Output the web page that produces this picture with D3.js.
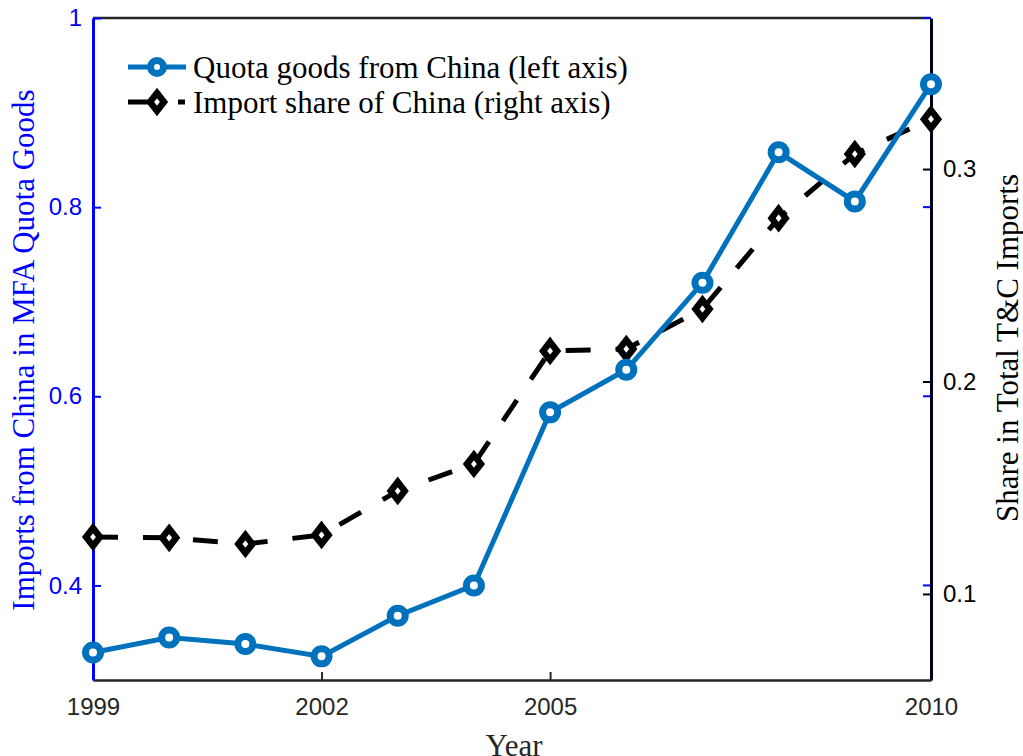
<!DOCTYPE html>
<html>
<head>
<meta charset="utf-8">
<script src="https://cdn.jsdelivr.net/npm/d3@7"></script>
<style>
  body { margin: 0; background: #fff; }
  .tick-lab { font-family: "Liberation Sans", Arial, sans-serif; font-size: 24px; }
  .title { font-family: "Liberation Serif", "Times New Roman", serif; font-size: 31px; }
</style>
</head>
<body>
<div id="chart"></div>
<script>
// data
var years = [1999, 2000, 2001, 2002, 2003, 2004, 2005, 2006, 2007, 2008, 2009, 2010];
var quotaShare = [0.329, 0.345, 0.338, 0.325, 0.368, 0.400, 0.583, 0.628, 0.720, 0.858, 0.806, 0.930];
var importShare = [0.1268, 0.1264, 0.1235, 0.1278, 0.1485, 0.1612, 0.2144, 0.2153, 0.2341, 0.2769, 0.3071, 0.3235];
var xTicks = [1999, 2002, 2005, 2010];
var leftTicks = [0.4, 0.6, 0.8, 1];
var rightTicks = [0.1, 0.2, 0.3];
var legendLabels = ["Quota goods from China (left axis)", "Import share of China (right axis)"];

var svgWidth = 1023;
var svgHeight = 756;
var margin = { top: 18, right: 92, bottom: 76, left: 93 };
var width = svgWidth - margin.left - margin.right;
var height = svgHeight - margin.top - margin.bottom;

var blue = "#0072BD";
var axisBlue = "#0000FF";
var gray = "#262626";

var svg = d3.select("#chart")
  .append("svg")
  .attr("width", svgWidth)
  .attr("height", svgHeight)
  .append("g")
  .attr("transform", `translate(${margin.left}, ${margin.top})`);

var x = d3.scaleLinear().domain([1999, 2010]).range([0, width]);
var yLeft = d3.scaleLinear().domain([0.3, 1]).range([height, 0]);
var yRight = d3.scaleLinear().domain([0.0595, 0.3711]).range([height, 0]);

// diamond marker, taller than wide
var diamondType = {
  draw: function(ctx) {
    ctx.moveTo(0, -9);
    ctx.lineTo(7, 0);
    ctx.lineTo(0, 9);
    ctx.lineTo(-7, 0);
    ctx.closePath();
  }
};
var diamond = d3.symbol().type(diamondType);

// top border
svg.append("line")
  .attr("x1", 0).attr("x2", width).attr("y1", 0).attr("y2", 0)
  .attr("stroke", gray).attr("stroke-width", 2.5);

// x axis
var xAxis = svg.append("g")
  .attr("transform", `translate(0,${height})`)
  .call(d3.axisBottom(x).tickValues(xTicks).tickFormat(d3.format("d")).tickSizeInner(-8).tickSizeOuter(0).tickPadding(18));
xAxis.select(".domain").attr("stroke", gray).attr("stroke-width", 2.5);
xAxis.selectAll(".tick line").attr("stroke", gray).attr("stroke-width", 2);
xAxis.selectAll("text").attr("class", "tick-lab").attr("fill", gray).attr("font-size", null).attr("font-family", null);

// left axis
var lAxis = svg.append("g")
  .call(d3.axisLeft(yLeft).tickValues(leftTicks).tickFormat(d => d === 1 ? "1" : d3.format(".1f")(d)).tickSizeInner(-8).tickSizeOuter(0).tickPadding(11));
lAxis.select(".domain").attr("stroke", axisBlue).attr("stroke-width", 3);
lAxis.selectAll(".tick line").attr("stroke", axisBlue).attr("stroke-width", 2);
lAxis.selectAll("text").attr("class", "tick-lab").attr("fill", axisBlue).attr("font-size", null).attr("font-family", null);

// mirrored blue ticks on right side
svg.append("g").selectAll("line")
  .data(leftTicks)
  .enter()
  .append("line")
  .attr("x1", width - 8).attr("x2", width)
  .attr("y1", d => yLeft(d)).attr("y2", d => yLeft(d))
  .attr("stroke", axisBlue).attr("stroke-width", 2);

// right axis
var rAxis = svg.append("g")
  .attr("transform", `translate(${width},0)`)
  .call(d3.axisRight(yRight).tickValues(rightTicks).tickFormat(d3.format(".1f")).tickSizeInner(-8).tickSizeOuter(0).tickPadding(12));
rAxis.select(".domain").attr("stroke", "#000022").attr("stroke-width", 3);
rAxis.selectAll(".tick line").attr("stroke", "#000").attr("stroke-width", 2);
rAxis.selectAll("text").attr("class", "tick-lab").attr("fill", "#000").attr("font-size", null).attr("font-family", null);

// axis titles
svg.append("text")
  .attr("class", "title")
  .attr("x", width / 2 + 2)
  .attr("y", height + 76)
  .attr("text-anchor", "middle")
  .attr("fill", gray)
  .text("Year");

svg.append("text")
  .attr("class", "title")
  .attr("transform", "rotate(-90)")
  .attr("x", -332)
  .attr("y", -59)
  .attr("text-anchor", "middle")
  .attr("fill", axisBlue)
  .text("Imports from China in MFA Quota Goods");

svg.append("text")
  .attr("class", "title")
  .attr("transform", "rotate(-90)")
  .attr("x", -330)
  .attr("y", width + 87)
  .attr("text-anchor", "middle")
  .attr("fill", "#000")
  .text("Share in Total T&C Imports");

// black dashed line (right axis)
var lineR = d3.line().x((d, i) => x(years[i])).y(d => yRight(d));
svg.append("path")
  .datum(importShare)
  .attr("d", lineR)
  .attr("fill", "none")
  .attr("stroke", "#000")
  .attr("stroke-width", 5)
  .attr("stroke-dasharray", "25,25");

svg.append("g").selectAll("path")
  .data(importShare)
  .enter()
  .append("path")
  .attr("d", diamond)
  .attr("transform", (d, i) => `translate(${x(years[i])},${yRight(d)})`)
  .attr("fill", "#fff")
  .attr("stroke", "#000")
  .attr("stroke-width", 6.5);

// blue line (left axis)
var lineL = d3.line().x((d, i) => x(years[i])).y(d => yLeft(d));
svg.append("path")
  .datum(quotaShare)
  .attr("d", lineL)
  .attr("fill", "none")
  .attr("stroke", blue)
  .attr("stroke-width", 5);

svg.append("g").selectAll("circle")
  .data(quotaShare)
  .enter()
  .append("circle")
  .attr("cx", (d, i) => x(years[i]))
  .attr("cy", d => yLeft(d))
  .attr("r", 7.5)
  .attr("fill", "#fff")
  .attr("stroke", blue)
  .attr("stroke-width", 7);

// legend
var leg = svg.append("g").attr("transform", "translate(35,49)");
leg.append("line")
  .attr("x1", 0).attr("x2", 58).attr("y1", 0).attr("y2", 0)
  .attr("stroke", blue).attr("stroke-width", 5);
leg.append("circle")
  .attr("cx", 29).attr("cy", 0).attr("r", 6.5)
  .attr("fill", "#fff").attr("stroke", blue).attr("stroke-width", 7);
leg.append("line")
  .attr("x1", 0).attr("x2", 58).attr("y1", 35).attr("y2", 35)
  .attr("stroke", "#000").attr("stroke-width", 5)
  .attr("stroke-dasharray", "38,12,7,10");
leg.append("path")
  .attr("d", diamond)
  .attr("transform", "translate(29,35)")
  .attr("fill", "#fff").attr("stroke", "#000").attr("stroke-width", 6.5);
leg.selectAll("text.leg")
  .data(legendLabels)
  .enter()
  .append("text")
  .attr("class", "title")
  .attr("x", 65)
  .attr("y", (d, i) => i * 35 + 11)
  .attr("fill", "#000")
  .text(d => d);
</script>
</body>
</html>
